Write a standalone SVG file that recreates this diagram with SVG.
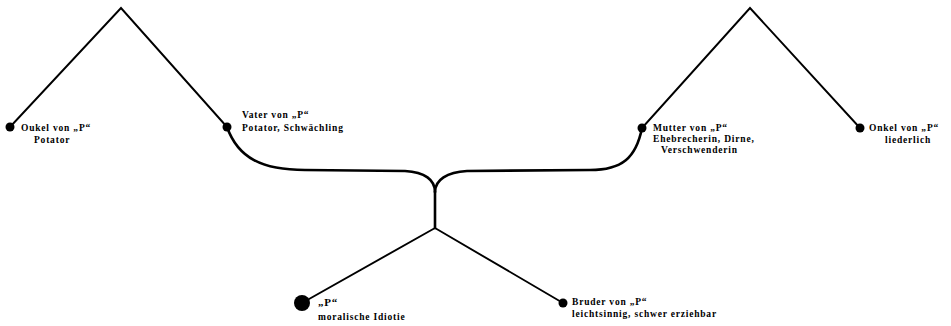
<svg xmlns="http://www.w3.org/2000/svg" width="951" height="326" viewBox="0 0 951 326">
<style>
.ln{fill:none;stroke:#000;stroke-width:2.6;stroke-linecap:round;stroke-linejoin:round}
.tr{fill:none;stroke:#000;stroke-width:1.9}
.t{font-family:"Liberation Serif","Times New Roman",serif;font-weight:bold;font-size:9.5px;fill:#000;letter-spacing:0.8px}
</style>
<rect width="951" height="326" fill="#fff"/>
<g id="connectors">
<path class="tr" d="M10,127 L121,8 L227,127"/>
<path class="tr" d="M642,128 L750,8 L860,128"/>
<path class="ln" d="M227,127 C238,158 262,170 305,170 L405,171 C425,172 435,180 435,192"/>
<path class="ln" d="M642,128 C636,158 622,170 590,170 L467,171 C447,172 435,180 435,192"/>
<path class="ln" d="M435,192 L435,228"/>
<path class="tr" d="M302,303 L435,228 L563,303"/>
</g>
<g id="onkel-left">
<circle cx="10" cy="127" r="4.5"/>
<text class="t" x="21" y="131">Oukel von „P“</text>
<text class="t" x="34" y="143">Potator</text>
</g>
<g id="vater">
<circle cx="227" cy="127" r="4.5"/>
<text class="t" x="242" y="118">Vater von „P“</text>
<text class="t" x="242" y="131">Potator, Schwächling</text>
</g>
<g id="mutter">
<circle cx="642" cy="128" r="4.5"/>
<text class="t" x="653" y="131">Mutter von „P“</text>
<text class="t" x="653" y="142">Ehebrecherin, Dirne,</text>
<text class="t" x="661" y="153">Verschwenderin</text>
</g>
<g id="onkel-right">
<circle cx="860" cy="128" r="4.5"/>
<text class="t" x="869" y="131">Onkel von „P“</text>
<text class="t" x="885" y="143">liederlich</text>
</g>
<g id="p">
<circle cx="302" cy="303" r="8"/>
<text class="t" x="318" y="306" style="font-size:11px">„P“</text>
<text class="t" x="318" y="320">moralische Idiotie</text>
</g>
<g id="bruder">
<circle cx="563" cy="303" r="4.5"/>
<text class="t" x="572" y="305">Bruder von „P“</text>
<text class="t" x="572" y="317">leichtsinnig, schwer erziehbar</text>
</g>
</svg>
